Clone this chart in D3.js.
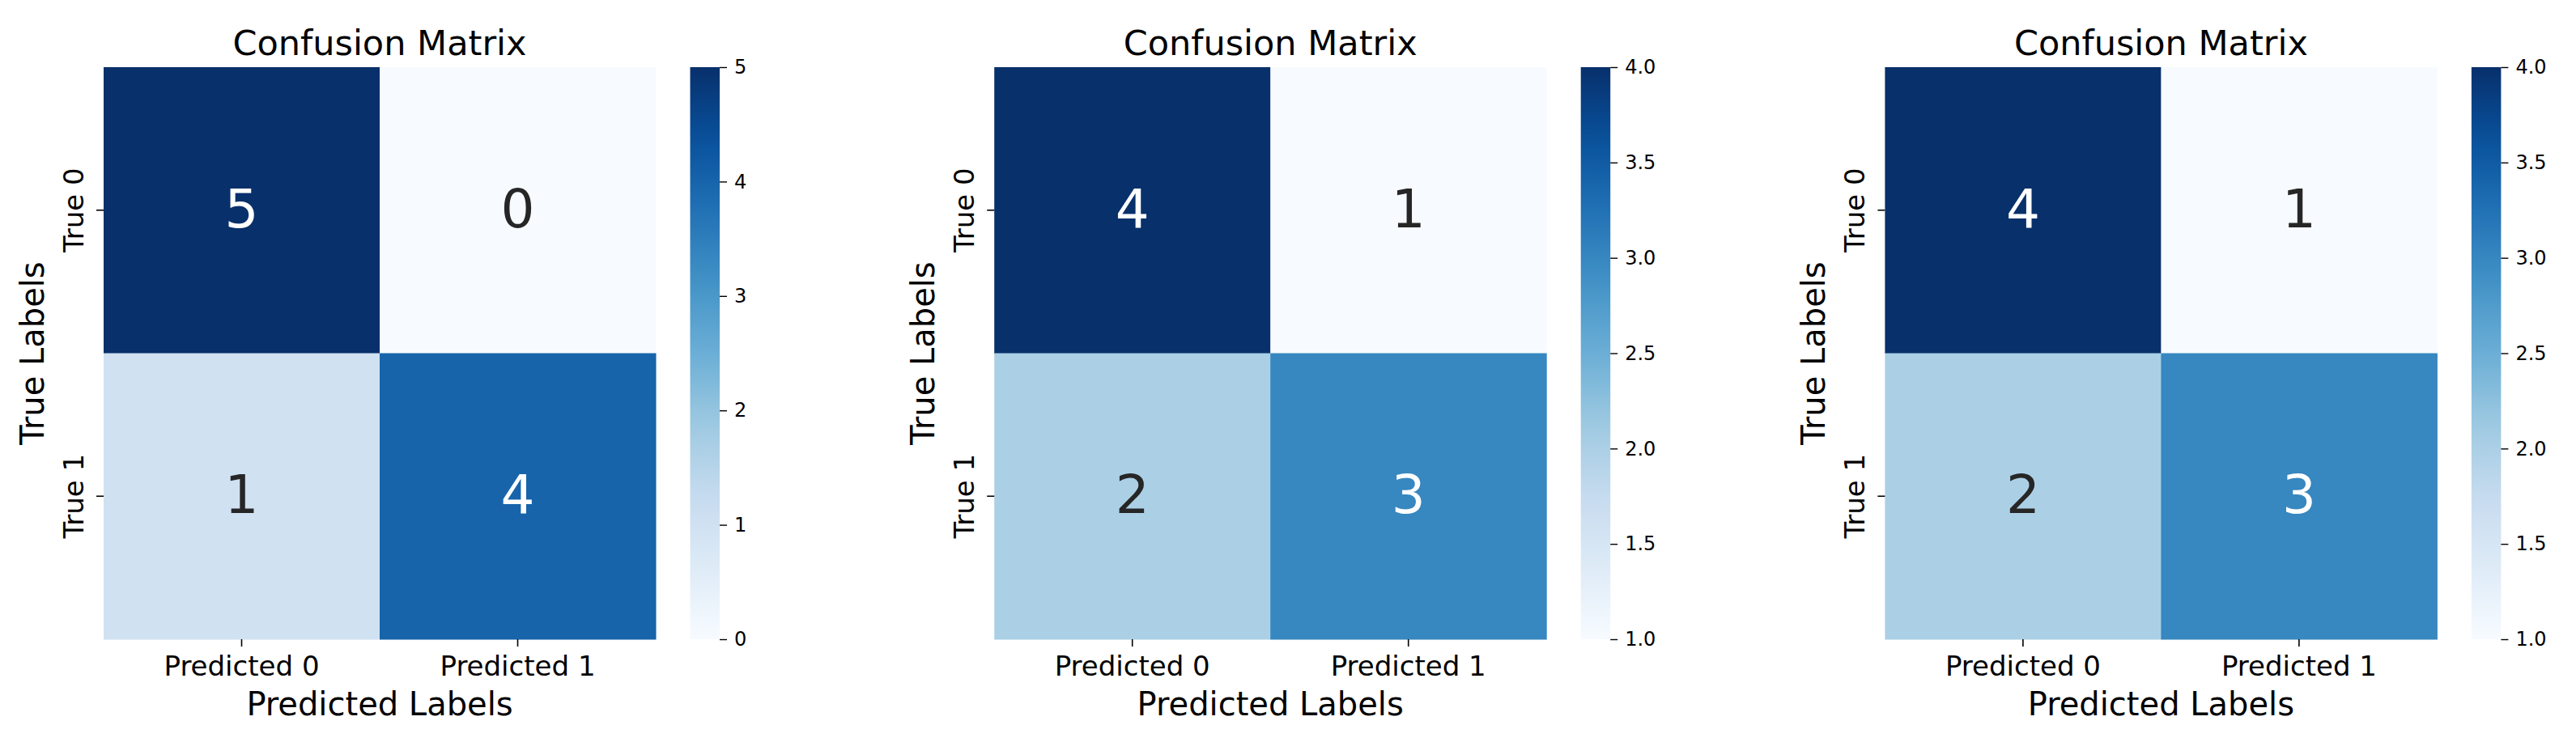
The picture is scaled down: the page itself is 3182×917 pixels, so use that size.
<!DOCTYPE html>
<html>
<head>
<meta charset="utf-8">
<script src="https://cdn.jsdelivr.net/npm/d3@7"></script>
<style>
  body { margin: 0; background: #fff; }
  svg text { font-family: "DejaVu Sans", sans-serif; }
</style>
</head>
<body>
<div id="chart"></div>
<script>
// data
var titles = ["Confusion Matrix", "Confusion Matrix", "Confusion Matrix"];
var xLabels = ["Predicted 0", "Predicted 1"];
var yLabels = ["True 0", "True 1"];
var matrices = [
    [[5, 0], [1, 4]],
    [[4, 1], [2, 3]],
    [[4, 1], [2, 3]]
];
var cbarTicks = [
    [0, 1, 2, 3, 4, 5],
    [1.0, 1.5, 2.0, 2.5, 3.0, 3.5, 4.0],
    [1.0, 1.5, 2.0, 2.5, 3.0, 3.5, 4.0]
];
var cbarFormats = ["d", ".1f", ".1f"];

// matplotlib "Blues" control colours
var blues = ["#f7fbff", "#deebf7", "#c6dbef", "#9ecae1", "#6baed6",
             "#4292c6", "#2171b5", "#08519c", "#08306b"];

var width = 3182, height = 917;
var panelStep = 1100.2;
var heat = {x: 128, top: 83, bottom: 790, w: 682};
var cbar = {x: 852.5, w: 36.5};

var svg = d3.select("#chart").append("svg")
    .attr("width", width)
    .attr("height", height);

var bluesScale = d3.scaleLinear()
    .domain(d3.range(blues.length).map(function(k){ return k / (blues.length - 1); }))
    .range(blues)
    .clamp(true);

// seaborn picks the annotation colour from the cell luminance
function textColor(c) {
    var rgb = d3.rgb(c);
    var ch = [rgb.r, rgb.g, rgb.b].map(function(v){
        v = v / 255;
        return v <= 0.03928 ? v / 12.92 : Math.pow((v + 0.055) / 1.055, 2.4);
    });
    var lum = 0.2126 * ch[0] + 0.7152 * ch[1] + 0.0722 * ch[2];
    return lum > 0.408 ? "#262626" : "#ffffff";
}

matrices.forEach(function(m, i){
    var ox = i * panelStep;
    var g = svg.append("g").attr("transform", "translate(" + ox + ",0)");

    var flat = d3.merge(m);
    var vmin = d3.min(flat), vmax = d3.max(flat);
    var norm = d3.scaleLinear().domain([vmin, vmax]).range([0, 1]);
    var color = function(v){ return bluesScale(norm(v)); };

    var x = d3.scaleBand().domain(xLabels).range([heat.x, heat.x + heat.w]);
    var y = d3.scaleBand().domain(yLabels).range([heat.top, heat.bottom]);

    var cells = [];
    m.forEach(function(row, r){
        row.forEach(function(v, c){
            cells.push({row: yLabels[r], col: xLabels[c], value: v});
        });
    });

    g.selectAll("rect.cell")
        .data(cells)
        .enter().append("rect")
        .attr("class", "cell")
        .attr("x", function(d){ return x(d.col); })
        .attr("y", function(d){ return y(d.row); })
        .attr("width", x.bandwidth() + 0.5)
        .attr("height", y.bandwidth() + 0.5)
        .attr("fill", function(d){ return color(d.value); });

    g.selectAll("text.annot")
        .data(cells)
        .enter().append("text")
        .attr("class", "annot")
        .attr("x", function(d){ return x(d.col) + x.bandwidth() / 2; })
        .attr("y", function(d){ return y(d.row) + y.bandwidth() / 2 + 21; })
        .attr("text-anchor", "middle")
        .style("font-size", "66px")
        .attr("fill", function(d){ return textColor(color(d.value)); })
        .text(function(d){ return d.value; });

    // x axis
    var xAxis = g.append("g")
        .attr("transform", "translate(0," + heat.bottom + ")")
        .call(d3.axisBottom(x).tickSize(9).tickPadding(12));
    xAxis.select(".domain").remove();
    xAxis.selectAll("line").attr("stroke", "#000").attr("stroke-width", 1.6);
    xAxis.selectAll("text")
        .attr("fill", "#000")
        .style("font-size", "34px")
        .style("font-family", "DejaVu Sans");

    // y axis, labels rotated like seaborn
    var yAxis = g.append("g")
        .attr("transform", "translate(" + heat.x + ",0)")
        .call(d3.axisLeft(y).tickSize(9));
    yAxis.select(".domain").remove();
    yAxis.selectAll("line").attr("stroke", "#000").attr("stroke-width", 1.6);
    yAxis.selectAll("text")
        .attr("x", 0).attr("dy", null)
        .attr("text-anchor", "middle")
        .attr("transform", "translate(-25,0) rotate(-90)")
        .attr("fill", "#000")
        .style("font-size", "34px")
        .style("font-family", "DejaVu Sans");

    var cx = heat.x + heat.w / 2;
    g.append("text")
        .attr("x", cx).attr("y", 68)
        .attr("text-anchor", "middle")
        .style("font-size", "43px")
        .text(titles[i]);

    g.append("text")
        .attr("x", cx).attr("y", 884)
        .attr("text-anchor", "middle")
        .style("font-size", "40px")
        .text("Predicted Labels");

    g.append("text")
        .attr("transform", "translate(54," + (heat.top + heat.bottom) / 2 + ") rotate(-90)")
        .attr("text-anchor", "middle")
        .style("font-size", "40px")
        .text("True Labels");

    // colour bar
    var gradId = "grad" + i;
    var grad = svg.append("defs").append("linearGradient")
        .attr("id", gradId)
        .attr("x1", 0).attr("y1", 1).attr("x2", 0).attr("y2", 0);
    grad.selectAll("stop")
        .data(d3.range(0, 1.0001, 0.05))
        .enter().append("stop")
        .attr("offset", function(t){ return t; })
        .attr("stop-color", function(t){ return bluesScale(t); });

    g.append("rect")
        .attr("x", cbar.x).attr("y", heat.top)
        .attr("width", cbar.w).attr("height", heat.bottom - heat.top)
        .attr("fill", "url(#" + gradId + ")");

    var cScale = d3.scaleLinear().domain([vmin, vmax]).range([heat.bottom, heat.top]);
    var cAxis = g.append("g")
        .attr("transform", "translate(" + (cbar.x + cbar.w) + ",0)")
        .call(d3.axisRight(cScale)
            .tickValues(cbarTicks[i])
            .tickSize(9).tickPadding(9)
            .tickFormat(d3.format(cbarFormats[i])));
    cAxis.select(".domain").remove();
    cAxis.selectAll("line").attr("stroke", "#000").attr("stroke-width", 1.4);
    cAxis.selectAll("text")
        .attr("fill", "#000")
        .style("font-size", "24px")
        .style("font-family", "DejaVu Sans");
});
</script>
</body>
</html>
